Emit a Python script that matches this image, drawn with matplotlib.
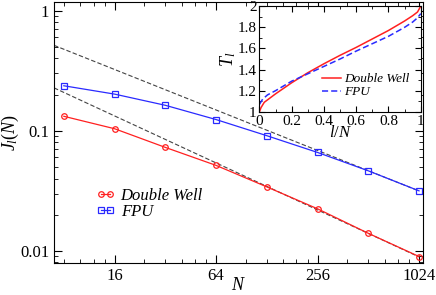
import numpy as np
import matplotlib
matplotlib.use("Agg")
import matplotlib.pyplot as plt
from matplotlib.ticker import FixedLocator, NullFormatter, LogLocator, MultipleLocator

plt.rcParams['font.family'] = ['Liberation Serif', 'DejaVu Serif']
plt.rcParams['mathtext.fontset'] = 'custom'
plt.rcParams['mathtext.it'] = 'Liberation Serif:italic'
plt.rcParams['mathtext.rm'] = 'Liberation Serif'

# main panel: current J_l(N) vs system size
N = [8, 16, 32, 64, 128, 256, 512, 1024]
J_dw = [0.132, 0.104, 0.0727, 0.0515, 0.0341, 0.0224, 0.0140, 0.00897]
J_fpu = [0.237, 0.202, 0.163, 0.124, 0.091, 0.066, 0.0464, 0.0316]

# power-law guides (amplitude, exponent)
fit_upper = (1.53, 0.56)
fit_lower = (0.806, 0.65)
fit_range = (7, 1024)

# inset: temperature profiles
lN_dw = [0, 0.01, 0.03, 0.1, 0.2, 0.3, 0.4, 0.5, 0.6, 0.7, 0.8, 0.9, 0.95, 0.98, 1.0]
T_dw = [1.0, 1.04, 1.09, 1.17, 1.275, 1.37, 1.455, 1.535, 1.61, 1.69, 1.77, 1.86, 1.91, 1.945, 2.0]
lN_fpu = [0, 0.02, 0.05, 0.1, 0.2, 0.3, 0.4, 0.5, 0.6, 0.7, 0.8, 0.9, 0.95, 0.98, 1.0]
T_fpu = [1.07, 1.12, 1.16, 1.2, 1.29, 1.36, 1.43, 1.5, 1.575, 1.645, 1.715, 1.8, 1.85, 1.89, 1.93]

red = '#ff2020'
blue = '#2a2aff'

fig = plt.figure(figsize=(4.36, 2.95), dpi=100)
ax = fig.add_axes([0.124, 0.108, 0.846, 0.885])

ax.plot(N, J_dw, '-o', color=red, mfc='none', ms=4, mew=0.9, lw=0.9, label='Double Well')
ax.plot(N, J_fpu, '-s', color=blue, mfc='none', ms=3.8, mew=0.9, lw=0.9, label='FPU')

xf = np.array(fit_range, dtype=float)
for amp, ex in (fit_upper, fit_lower):
    ax.plot(xf, amp * xf ** (-ex), '--', color='#444444', lw=0.8, dashes=(4, 2), zorder=1)

ax.set_xscale('log', base=2)
ax.set_yscale('log')
ax.set_xlim(7.0, 1080)
ax.set_ylim(0.0079, 1.18)
ax.xaxis.set_major_locator(FixedLocator([16, 64, 256, 1024]))
ax.set_xticklabels(['16', '64', '256', '1024'])
ax.xaxis.set_minor_locator(LogLocator(base=4, subs=[1.5, 2, 2.5, 3, 3.5]))
ax.xaxis.set_minor_formatter(NullFormatter())
ax.yaxis.set_major_locator(FixedLocator([0.01, 0.1, 1]))
ax.set_yticklabels(['0.01', '0.1', '1'])
ax.yaxis.set_minor_locator(LogLocator(base=10, subs=np.arange(2, 10)))
ax.yaxis.set_minor_formatter(NullFormatter())
ax.tick_params(which='both', direction='in', top=True, right=True, labelsize=12)
ax.tick_params(which='major', length=6)
ax.tick_params(which='minor', length=3)
ax.set_xlabel('$N$', fontsize=13, labelpad=-5)
ax.set_ylabel('$J_l(N)$', fontsize=13, labelpad=-1)

ax.legend(loc='center left', bbox_to_anchor=(0.115, 0.227), frameon=False, numpoints=2,
          handlelength=1.1, handletextpad=0.35, labelspacing=0.0, borderpad=0, borderaxespad=0,
          prop={'style': 'italic', 'size': 12})

# inset
ins = fig.add_axes([0.595, 0.621, 0.370, 0.358])
ins.plot(lN_dw, T_dw, '-', color=red, lw=1.1, label='Double Well')
ins.plot(lN_fpu, T_fpu, '--', color=blue, lw=1.1, dashes=(4, 2), label='FPU')
ins.set_xlim(0, 1)
ins.set_ylim(1, 2)
ins.xaxis.set_major_locator(MultipleLocator(0.2))
ins.xaxis.set_minor_locator(MultipleLocator(0.1))
ins.yaxis.set_major_locator(MultipleLocator(0.2))
ins.yaxis.set_minor_locator(MultipleLocator(0.1))
ins.xaxis.set_major_formatter(plt.FuncFormatter(lambda v, p: '%g' % round(v, 2)))
ins.yaxis.set_major_formatter(plt.FuncFormatter(lambda v, p: '%g' % round(v, 2)))
ins.tick_params(which='both', direction='in', top=True, right=True, labelsize=11, pad=2)
ins.tick_params(which='major', length=4)
ins.tick_params(which='minor', length=2)
ins.set_xlabel('$l/N$', fontsize=12, labelpad=-2)
ins.set_ylabel('$T_l$', fontsize=13, labelpad=0)
ins.legend(loc='upper left', bbox_to_anchor=(0.39, 0.365), frameon=False, handlelength=1.4,
           handletextpad=0.25, labelspacing=0.05, borderpad=0, borderaxespad=0,
           prop={'style': 'italic', 'size': 9.5})

fig.savefig('out.png', dpi=100)
